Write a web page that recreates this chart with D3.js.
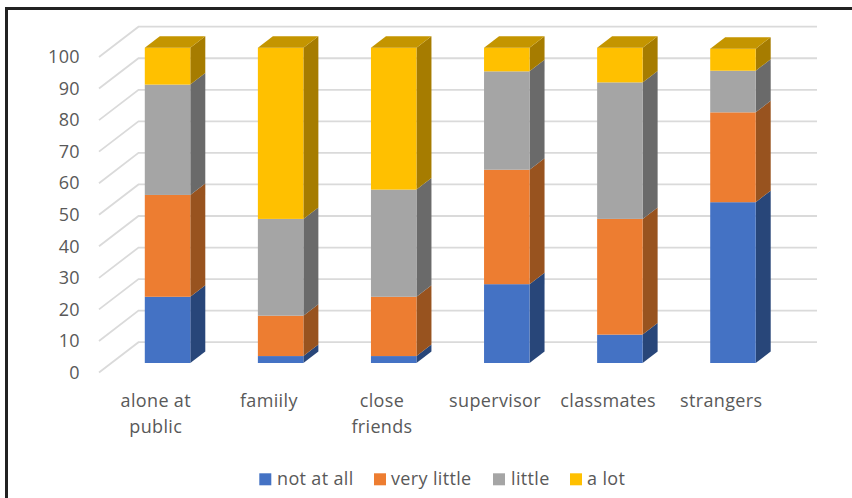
<!DOCTYPE html>
<html>
<head>
<meta charset="utf-8">
<script src="https://cdn.jsdelivr.net/npm/d3@7/dist/d3.min.js"></script>
<style>
html,body{margin:0;padding:0;background:#fff;}
svg{display:block;font-family:"Open Sans",sans-serif;}
text{fill:#595959;}
.lbl{font-size:18px;letter-spacing:0.35px;}
</style>
</head>
<body>
<svg id="chart" width="852" height="498"></svg>
<script>
const categories = [["alone at","public"],["famiily"],["close","friends"],["supervisor"],["classmates"],["strangers"]];
const seriesNames = ["not at all","very little","little","a lot"];
const notAtAll   = [21, 2.2, 2.2, 25, 9, 51];
const veryLittle = [32.3, 12.8, 18.8, 36.3, 36.7, 28.5];
const little     = [35, 30.7, 34, 31.2, 43.3, 13.2];
const aLot       = [11.7, 54.3, 45, 7.5, 11, 7];
const yTicks = [0,10,20,30,40,50,60,70,80,90,100];

const frontColors = ["#4472c4","#ed7d31","#a5a5a5","#ffc000"];
const sideColors  = ["#284679","#98531f","#6a6a6a","#a67c00"];
const topColor    = "#c49500";

const svg = d3.select("#chart");
const depthX = 15, depthY = -11.5;      // oblique offset of the bars' depth
const wallX = 39.5, wallY = -30.3;      // oblique offset from axis plane to back wall

const y = d3.scaleLinear().domain([0,100]).range([372.5,57]);
const barY = d3.scaleLinear().domain([0,100]).range([363,47.7]);
const x = d3.scaleBand().domain(d3.range(categories.length)).range([111,789.5]);
const barW = 45.5;
const barX = i => x(i) + (x.bandwidth()-barW)/2;
const labelShift = -11.75;              // category labels sit left of the bars, on the front plane

// frame
svg.append("path").attr("d","M6.5,498V8.5H852").attr("fill","none").attr("stroke","#222").attr("stroke-width",3);

// back wall gridlines and their diagonal returns to the axis
const grid = svg.append("g").attr("fill","none").attr("stroke","#dadada").attr("stroke-width",1.8);
yTicks.forEach(t=>{
  const py = y(t);
  grid.append("path").attr("d",`M99,${py}L${99+wallX},${py+wallY}H817`);
});

// value axis labels
const axis = d3.axisLeft(y).tickValues(yTicks).tickSize(0).tickPadding(0);
const axisG = svg.append("g").attr("transform","translate(80,0)").call(axis);
axisG.select(".domain").remove();
axisG.selectAll("text").attr("class","lbl").style("font-family",'"Open Sans",sans-serif');

// stacked bars
const rows = categories.map((c,i)=>({i,"not at all":notAtAll[i],"very little":veryLittle[i],"little":little[i],"a lot":aLot[i]}));
const stacked = d3.stack().keys(seriesNames)(rows);
stacked.forEach((layer,k)=>{
  layer.forEach((d,i)=>{
    const x0 = barX(i), x1 = x0+barW, yb = barY(d[0]), yt = barY(d[1]);
    svg.append("path")
      .attr("d",`M${x1},${yb}L${x1+depthX},${yb+depthY}V${yt+depthY}L${x1},${yt}Z`)
      .attr("fill",sideColors[k]);
    svg.append("rect").attr("x",x0).attr("y",yt).attr("width",barW).attr("height",yb-yt).attr("fill",frontColors[k]);
    if(k===stacked.length-1){
      svg.append("path")
        .attr("d",`M${x0},${yt}L${x0+depthX},${yt+depthY}H${x1+depthX}L${x1},${yt}Z`)
        .attr("fill",topColor);
    }
  });
});

// category labels
categories.forEach((lines,i)=>{
  const t = svg.append("text").attr("class","lbl").attr("text-anchor","middle");
  lines.forEach((s,j)=>t.append("tspan").attr("x",x(i)+x.bandwidth()/2+labelShift).attr("y",406.5+j*26).text(s));
});

// legend
const swatchX = [259.3,374,493,570];
const legendTextX = [277,391,511,587];
seriesNames.forEach((n,k)=>{
  svg.append("rect").attr("x",swatchX[k]).attr("y",473.3).attr("width",12).attr("height",12).attr("fill",frontColors[k]);
  svg.append("text").attr("class","lbl").attr("x",legendTextX[k]).attr("y",485).text(n);
});
</script>
</body>
</html>
